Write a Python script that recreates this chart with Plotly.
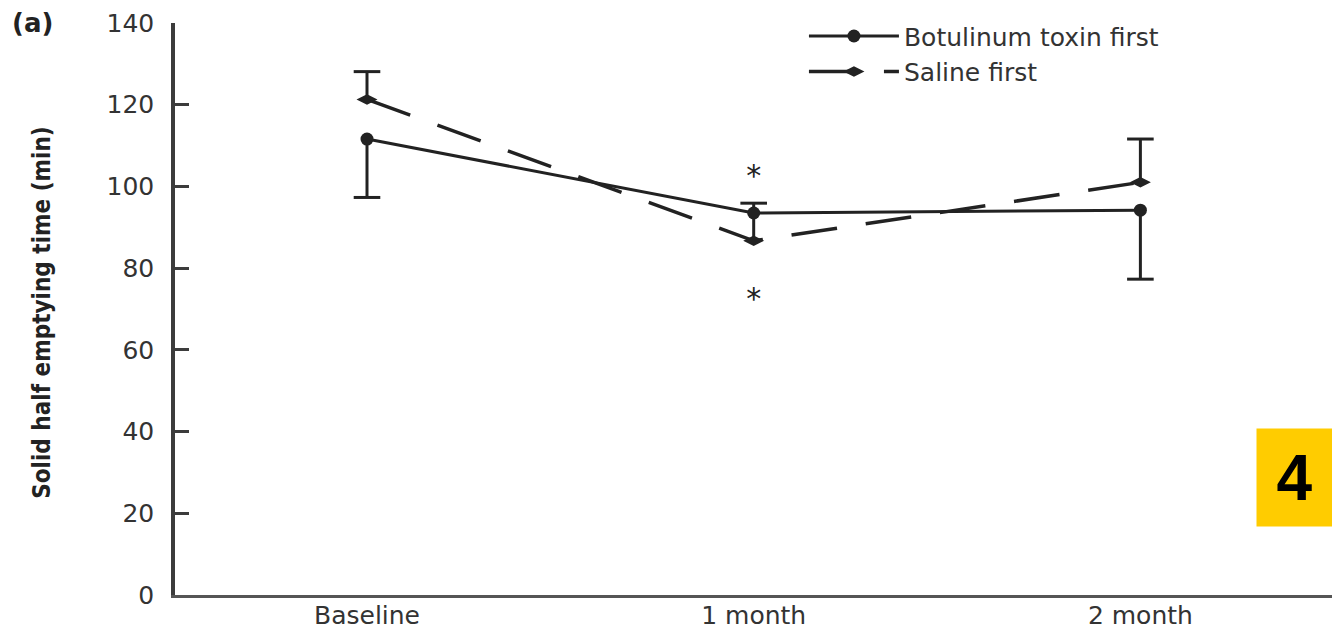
import plotly.graph_objects as go

# ---- data ----
categories = ["Baseline", "1 month", "2 month"]
botox_mean = [111.6, 93.5, 94.2]
saline_mean = [121.3, 86.7, 101.0]
botox_err_lower = [14.3, 0.0, 16.9]
saline_err_upper = [6.8, 9.2, 10.6]
star_x = ["1 month", "1 month"]
star_y = [102.0, 71.8]
y_ticks = [0, 20, 40, 60, 80, 100, 120, 140]

INK = "#222222"
AX = "#3c3c3c"
FONT = "DejaVu Sans"

fig = go.Figure()

# error bars (no caps) for each series
fig.add_trace(go.Scatter(
    x=categories, y=botox_mean, mode="markers", showlegend=False,
    marker=dict(size=1, opacity=0), hoverinfo="skip",
    error_y=dict(type="data", symmetric=False, array=[0, 0, 0],
                 arrayminus=botox_err_lower, width=0, thickness=3, color=INK)))
fig.add_trace(go.Scatter(
    x=categories, y=saline_mean, mode="markers", showlegend=False,
    marker=dict(size=1, opacity=0), hoverinfo="skip",
    error_y=dict(type="data", symmetric=False, array=saline_err_upper,
                 arrayminus=[0, 0, 0], width=0, thickness=3, color=INK)))

# caps
botox_caps = [m - e if e > 0 else None for m, e in zip(botox_mean, botox_err_lower)]
saline_caps = [m + e if e > 0 else None for m, e in zip(saline_mean, saline_err_upper)]
for caps in (botox_caps, saline_caps):
    fig.add_trace(go.Scatter(
        x=categories, y=caps, mode="markers", showlegend=False, hoverinfo="skip",
        marker=dict(symbol="line-ew", size=19, line=dict(width=3, color=INK))))

# main series
fig.add_trace(go.Scatter(
    x=categories, y=botox_mean, mode="lines+markers", name="Botulinum toxin first",
    line=dict(color=INK, width=3),
    marker=dict(symbol="circle", size=13, color=INK)))
fig.add_trace(go.Scatter(
    x=categories, y=saline_mean, mode="lines+markers", name="Saline first",
    line=dict(color=INK, width=3.5, dash="46px,29px"),
    marker=dict(symbol="diamond-wide", size=15, color=INK)))

# significance asterisks
fig.add_trace(go.Scatter(
    x=star_x, y=star_y, mode="text", text=["*", "*"], showlegend=False,
    textposition="middle center", hoverinfo="skip",
    textfont=dict(family=FONT, size=30, color=INK)))

fig.update_layout(
    width=1324, height=622,
    margin=dict(l=167, r=0, t=15, b=35, autoexpand=False),
    paper_bgcolor="white", plot_bgcolor="white",
    font=dict(family=FONT, color="#333333"),
    showlegend=True,
    legend=dict(x=0.5436, y=1.017, xanchor="left", yanchor="top",
                bgcolor="rgba(0,0,0,0)", itemwidth=90,
                font=dict(family=FONT, size=25, color="#333333"),
                tracegroupgap=0),
    xaxis=dict(type="category", range=[-0.4965, 2.4955], showgrid=False,
               zeroline=False, showline=True, linecolor="#555555", linewidth=3,
               ticks="", tickfont=dict(family=FONT, size=25, color="#333333"),
               ticklabelstandoff=-4, automargin=False),
    yaxis=dict(range=[0, 140], tickvals=y_ticks, showgrid=False, zeroline=False,
               showline=True, linecolor=AX, linewidth=3.5,
               ticks="inside", ticklen=14, tickwidth=3, tickcolor=AX,
               tickfont=dict(family=FONT, size=25, color="#333333"),
               ticklabelstandoff=12, automargin=False),
    annotations=[
        dict(text="Solid half emptying time (min)", xref="paper", yref="paper",
             x=-0.115, y=0.495, xanchor="center", yanchor="middle", textangle=-90,
             showarrow=False,
             font=dict(family="DejaVu Sans Condensed", size=24, color="#222222",
                       weight="bold")),
        dict(text="(a)", xref="paper", yref="paper", x=-0.1426, y=1.0,
             xanchor="left", yanchor="middle", showarrow=False,
             font=dict(family=FONT, size=26, color="#222222", weight="bold")),
        dict(text="4", xref="paper", yref="paper", x=0.9343, y=0.292,
             xanchor="left", yanchor="top", showarrow=False, align="center",
             width=67, height=89, valign="middle", borderpad=4,
             bgcolor="#FFCC00",
             font=dict(family="Liberation Sans", size=64, color="black",
                       weight="bold")),
    ],
)

fig.write_html("out.html")
